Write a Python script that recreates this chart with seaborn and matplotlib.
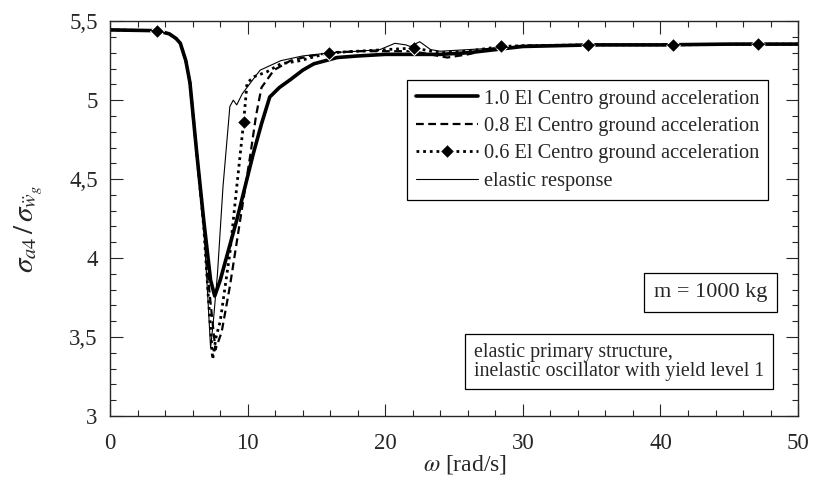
import matplotlib
matplotlib.use("Agg")
import matplotlib.pyplot as plt
from matplotlib.ticker import MultipleLocator, FixedLocator
import seaborn as sns

# omega [rad/s] and sigma_a4 / sigma_wg''
x_10 = [0, 3.4, 4.3, 4.8, 5.1, 5.5, 5.8, 6.3, 6.8, 7.3, 7.6, 8.0, 8.6, 9.2, 9.8, 10.4,
        11.0, 11.6, 12.3, 13.1, 14.0, 14.8, 16.5, 18, 20, 22, 24, 26, 28, 30, 35, 40, 45, 50]
y_10 = [5.445, 5.44, 5.42, 5.39, 5.36, 5.25, 5.11, 4.66, 4.24, 3.86, 3.76, 3.86, 4.05, 4.24,
        4.45, 4.66, 4.85, 5.02, 5.08, 5.13, 5.19, 5.23, 5.27, 5.28, 5.29, 5.29, 5.29, 5.30,
        5.32, 5.34, 5.35, 5.35, 5.355, 5.355]

x_08 = [0, 3.4, 4.3, 4.8, 5.1, 5.5, 5.8, 6.3, 6.8, 7.2, 7.65, 8.1, 8.7, 9.45, 10.2, 10.6,
        11.0, 11.9, 13.1, 14.5, 16, 18, 20, 22, 24.5, 26, 28, 30, 35, 40, 45, 50]
y_08 = [5.445, 5.44, 5.42, 5.39, 5.36, 5.25, 5.11, 4.66, 4.22, 3.8, 3.42, 3.53, 3.82, 4.24,
        4.66, 4.9, 5.08, 5.19, 5.25, 5.28, 5.30, 5.31, 5.31, 5.31, 5.27, 5.29, 5.33, 5.345,
        5.35, 5.35, 5.355, 5.355]

x_06 = [0, 3.4, 4.3, 4.8, 5.1, 5.5, 5.8, 6.3, 6.8, 7.1, 7.45, 7.7, 8.0, 8.7, 9.2, 9.7,
        9.95, 10.5, 11.4, 12.4, 13.8, 15.9, 18, 20, 22.1, 24, 26, 28.4, 30, 34.7, 40.9,
        47.1, 50]
y_06 = [5.445, 5.44, 5.42, 5.39, 5.36, 5.25, 5.11, 4.66, 4.2, 3.8, 3.36, 3.5, 3.6, 4.03,
        4.45, 4.86, 5.11, 5.15, 5.18, 5.23, 5.25, 5.30, 5.31, 5.32, 5.33, 5.30, 5.31, 5.34,
        5.345, 5.35, 5.35, 5.355, 5.355]
diamond_x = [3.4, 9.7, 15.9, 22.1, 28.4, 34.7, 40.9, 47.1]

x_el = [0, 3.4, 4.3, 4.8, 5.1, 5.5, 5.8, 6.3, 6.8, 7.1, 7.3, 7.5, 7.8, 8.2, 8.7, 8.95,
        9.2, 9.6, 10.2, 10.9, 12.4, 14, 16, 18, 19.6, 20.7, 21.5, 21.8, 22.5, 23.3, 24,
        26, 28, 30, 35, 40, 45, 50]
y_el = [5.445, 5.44, 5.42, 5.39, 5.36, 5.25, 5.11, 4.66, 4.2, 3.75, 3.43, 3.6, 3.9, 4.45,
        4.96, 5.0, 4.97, 5.04, 5.11, 5.19, 5.25, 5.28, 5.30, 5.31, 5.32, 5.36, 5.35, 5.34,
        5.37, 5.32, 5.31, 5.32, 5.33, 5.34, 5.35, 5.35, 5.355, 5.355]

labels = ["1.0 El Centro ground acceleration", "0.8 El Centro ground acceleration",
          "0.6 El Centro ground acceleration", "elastic response"]
y_ticks = [3, 3.5, 4, 4.5, 5, 5.5]
y_ticklabels = ["3", "3,5", "4", "4,5", "5", "5,5"]
x_ticks = [0, 10, 20, 30, 40, 50]

sns.set_style("ticks")
plt.rcParams["font.family"] = ["Liberation Serif", "DejaVu Serif"]
plt.rcParams["mathtext.fontset"] = "stix"

fig = plt.figure(figsize=(8.16, 4.82), dpi=100)
ax = fig.add_axes([0.135, 0.137, 0.843, 0.819])

sns.lineplot(x=x_10, y=y_10, ax=ax, color="black", lw=2.6, sort=False, label=labels[0])
sns.lineplot(x=x_08, y=y_08, ax=ax, color="black", lw=1.6, sort=False, label=labels[1],
             linestyle=(0, (3.5, 2)))
mark_idx = [x_06.index(v) for v in diamond_x]
sns.lineplot(x=x_06, y=y_06, ax=ax, color="black", lw=2.0, sort=False, label=labels[2],
             linestyle=(0, (1, 1.4)), marker="D", markersize=7, markevery=mark_idx)
sns.lineplot(x=x_el, y=y_el, ax=ax, color="black", lw=0.8, sort=False, label=labels[3])

ax.set_xlim(0, 50)
ax.set_ylim(3, 5.5)
ax.xaxis.set_major_locator(FixedLocator(x_ticks))
ax.xaxis.set_minor_locator(MultipleLocator(2))
ax.yaxis.set_major_locator(FixedLocator(y_ticks))
ax.yaxis.set_minor_locator(MultipleLocator(0.1))
ax.set_yticklabels(y_ticklabels)
ax.tick_params(which="both", direction="in", top=True, right=True, width=0.8)
ax.tick_params(which="major", length=9, labelsize=16.5)
ax.tick_params(axis="x", which="major", pad=12)
ax.tick_params(axis="y", which="major", pad=9)
ax.tick_params(which="minor", length=4.5)
for s in ax.spines.values():
    s.set_linewidth(1.0)

ax.set_xlabel(r"$\omega$ [rad/s]", fontsize=17)
ax.xaxis.set_label_coords(0.516, -0.095)
ax.set_ylabel(r"$\sigma_{a4}\,/\,\sigma_{\ddot{w}_g}$", fontsize=21)
ax.yaxis.set_label_coords(-0.094, 0.475)

leg = ax.legend(loc="upper right", bbox_to_anchor=(0.957, 0.851), borderaxespad=0,
                fontsize=14.7, handlelength=3.0, handletextpad=0.3, labelspacing=0.4,
                fancybox=False, edgecolor="black", framealpha=1, borderpad=0.45)
leg.get_frame().set_linewidth(0.9)

box = dict(boxstyle="square,pad=0.45", facecolor="white", edgecolor="black", lw=0.9)
ax.text(0.955, 0.313, "m = 1000 kg", transform=ax.transAxes, fontsize=16,
        ha="right", va="center", bbox=box)
ax.text(0.529, 0.137, "elastic primary structure,\ninelastic oscillator with yield level 1",
        transform=ax.transAxes, fontsize=14.3, ha="left", va="center", linespacing=0.95,
        bbox=box)

fig.savefig("out.png", dpi=100)
